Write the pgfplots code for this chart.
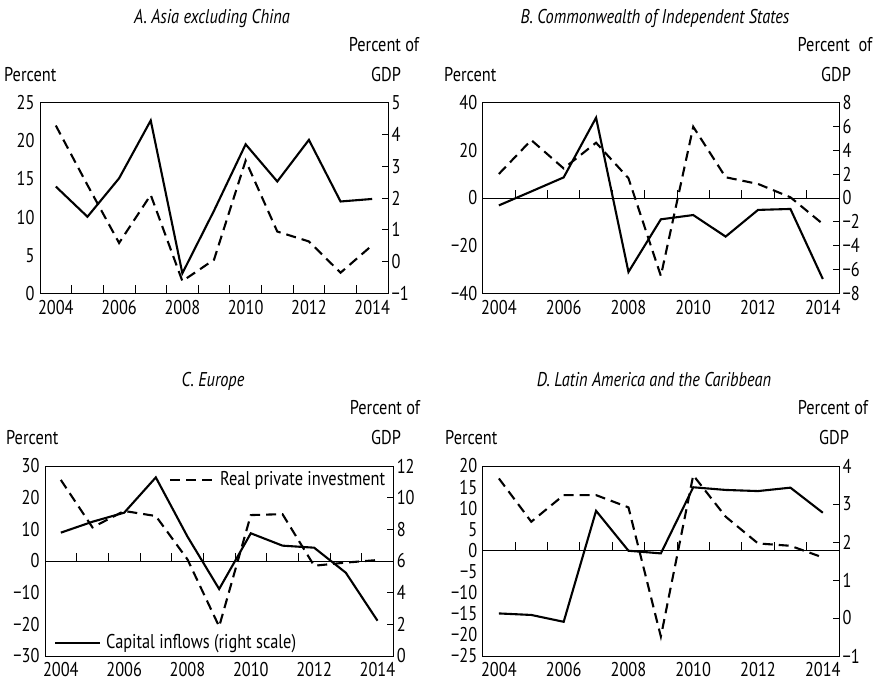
\documentclass[border=0pt]{standalone}
\usepackage{fontspec}
\setmainfont{PT Sans}[FakeStretch=0.82]
\usepackage{pgfplots}
\usepackage{pgfplotstable}
\pgfplotsset{compat=1.18}

\newcommand\tk{\fontsize{20}{24}\selectfont}

\pgfplotstableread{
year inv cap
2004 22.0 2.36
2005 14.2 1.41
2006 6.6 2.62
2007 12.9 4.44
2008 1.6 -0.37
2009 4.4 1.60
2010 17.4 3.69
2011 8.1 2.52
2012 6.8 3.83
2013 2.7 1.89
2014 6.3 1.97
}\tA
\pgfplotstableread{
year inv cap
2004 10.1 -0.62
2005 24.3 0.55
2006 12.4 1.73
2007 23.2 6.74
2008 8.3 -6.21
2009 -32.7 -1.79
2010 29.9 -1.43
2011 8.7 -3.24
2012 5.9 -1.00
2013 0.3 -0.92
2014 -10.9 -6.80
}\tB
\pgfplotstableread{
year inv cap
2004 25.6 7.79
2005 10.6 8.48
2006 15.8 9.05
2007 14.2 11.28
2008 0.5 7.54
2009 -20.7 4.23
2010 14.5 7.75
2011 14.8 6.97
2012 -1.5 6.84
2013 -0.5 5.26
2014 0.3 2.23
}\tC
\pgfplotstableread{
year inv cap
2004 17.05 0.12
2005 6.8 0.08
2006 13.1 -0.10
2007 13.1 2.82
2008 10.2 1.77
2009 -20.4 1.70
2010 17.8 3.44
2011 8.0 3.37
2012 1.66 3.34
2013 1.1 3.43
2014 -1.66 2.77
}\tD

\tikzset{
  dashline/.style={black, line width=2.1bp, dash pattern=on 10bp off 6bp},
  solidline/.style={black, line width=2.1bp},
  lab/.style={font=\tk, inner sep=0pt},
}

\pgfplotsset{
  panelL/.style={scale only axis, xmin=2003.5, xmax=2014.5,
    /pgf/number format/assume math mode=true,
    xtick={2004,2006,2008,2010,2012,2014},
    xticklabels={2004,2006,2008,2010,2012,2014},
    xtick style={draw=none}, ytick style={draw=none},
    xtick pos=bottom, ytick pos=left,
    axis line style={line width=0.8bp},
    tick label style={font=\tk},
    xticklabel style={yshift=-3bp},
    yticklabel style={xshift=-2bp}},
  panelR/.style={scale only axis, xmin=2003.5, xmax=2014.5,
    /pgf/number format/assume math mode=true,
    axis x line=none, axis y line*=right,
    ytick pos=right, tick align=inside, major tick length=6bp,
    tick style={line width=0.8bp, black},
    axis line style={line width=0.8bp},
    tick label style={font=\tk}},
}

\newcommand\zeroticks{%
  \draw[line width=0.8bp] (axis cs:2003.5,0) -- (axis cs:2014.5,0);
  \pgfplotsinvokeforeach{2004.5,2005.5,2006.5,2007.5,2008.5,2009.5,2010.5,2011.5,2012.5,2013.5}{%
    \draw[line width=0.8bp] (axis cs:##1,0) -- ([yshift=8bp]axis cs:##1,0);}%
}

\begin{document}
\begin{tikzpicture}
\path[use as bounding box] (0,0) rectangle (876bp,686bp);

% Panel A
\begin{axis}[panelL, at={(40bp,392.7bp)}, anchor=south west, width=348bp, height=190.6bp,
  ymin=0, ymax=25, ytick={0,5,...,25}, yticklabels={0,5,10,15,20,25}]
  \zeroticks
  \addplot[dashline] table[x=year,y=inv] {\tA};
\end{axis}
\begin{axis}[panelR, at={(40bp,392.7bp)}, anchor=south west, width=348bp, height=190.6bp,
  ymin=-1, ymax=5, ytick={-1,0,...,5}, yticklabels={−1,0,1,2,3,4,5}]
  \addplot[solidline] table[x=year,y=cap] {\tA};
\end{axis}

% Panel B
\begin{axis}[panelL, at={(482.7bp,392.7bp)}, anchor=south west, width=356.3bp, height=190.6bp,
  ymin=-40, ymax=40, ytick={-40,-20,0,20,40}, yticklabels={−40,−20,0,20,40}]
  \zeroticks
  \addplot[dashline] table[x=year,y=inv] {\tB};
\end{axis}
\begin{axis}[panelR, at={(482.7bp,392.7bp)}, anchor=south west, width=356.3bp, height=190.6bp,
  ymin=-8, ymax=8, ytick={-8,-6,...,8}, yticklabels={−8,−6,−4,−2,0,2,4,6,8}]
  \addplot[solidline] table[x=year,y=cap] {\tB};
\end{axis}

% Panel C
\begin{axis}[panelL, at={(45bp,30bp)}, anchor=south west, width=348.3bp, height=190bp,
  ymin=-30, ymax=30, ytick={-30,-20,...,30}, yticklabels={−30,−20,−10,0,10,20,30}]
  \zeroticks
  \addplot[dashline] table[x=year,y=inv] {\tC};
\end{axis}
\begin{axis}[panelR, at={(45bp,30bp)}, anchor=south west, width=348.3bp, height=190bp,
  ymin=0, ymax=12, ytick={0,2,...,12}, yticklabels={0,2,4,6,8,10,12}]
  \addplot[solidline] table[x=year,y=cap] {\tC};
\end{axis}

% Panel D
\begin{axis}[panelL, at={(482.7bp,30bp)}, anchor=south west, width=356.3bp, height=190bp,
  ymin=-25, ymax=20, ytick={-25,-20,...,20}, yticklabels={−25,−20,−15,−10,−5,0,5,10,15,20}]
  \zeroticks
  \addplot[dashline] table[x=year,y=inv] {\tD};
\end{axis}
\begin{axis}[panelR, at={(482.7bp,30bp)}, anchor=south west, width=356.3bp, height=190bp,
  ymin=-1, ymax=4, ytick={-1,0,...,4}, yticklabels={−1,0,1,2,3,4}]
  \addplot[solidline] table[x=year,y=cap] {\tD};
\end{axis}

% Titles and unit labels
\node[lab, anchor=base] at (212bp,662.7bp) {\itshape A. Asia excluding China};
\node[lab, anchor=base] at (655bp,662.7bp) {\itshape B. Commonwealth of Independent States};
\node[lab, anchor=base] at (213bp,299.4bp) {\itshape C. Europe};
\node[lab, anchor=base] at (654bp,299.4bp) {\itshape D. Latin America and the Caribbean};

\node[lab, anchor=base west] at (4bp,604.3bp) {Percent};
\node[lab, anchor=base west] at (444bp,604.3bp) {Percent};
\node[lab, anchor=base west] at (6bp,241bp) {Percent};
\node[lab, anchor=base west] at (445bp,241bp) {Percent};

\node[lab, anchor=base] at (384bp,634.3bp) {Percent of};
\node[lab, anchor=base] at (386bp,604.3bp) {GDP};
\node[lab, anchor=base] at (835bp,634.3bp) {Percent\ \ of};
\node[lab, anchor=base] at (836bp,604.3bp) {GDP};
\node[lab, anchor=base] at (385bp,271bp) {Percent of};
\node[lab, anchor=base] at (386bp,241bp) {GDP};
\node[lab, anchor=base] at (833bp,271bp) {Percent of};
\node[lab, anchor=base] at (834bp,241bp) {GDP};

% Legend in panel C
\draw[dashline] (170bp,206bp) -- (217bp,206bp);
\node[lab, anchor=west] at (220bp,206bp) {Real private investment};
\draw[solidline] (55bp,42.7bp) -- (100bp,42.7bp);
\node[lab, anchor=west] at (106bp,42.7bp) {Capital inflows (right scale)};
\end{tikzpicture}
\end{document}
